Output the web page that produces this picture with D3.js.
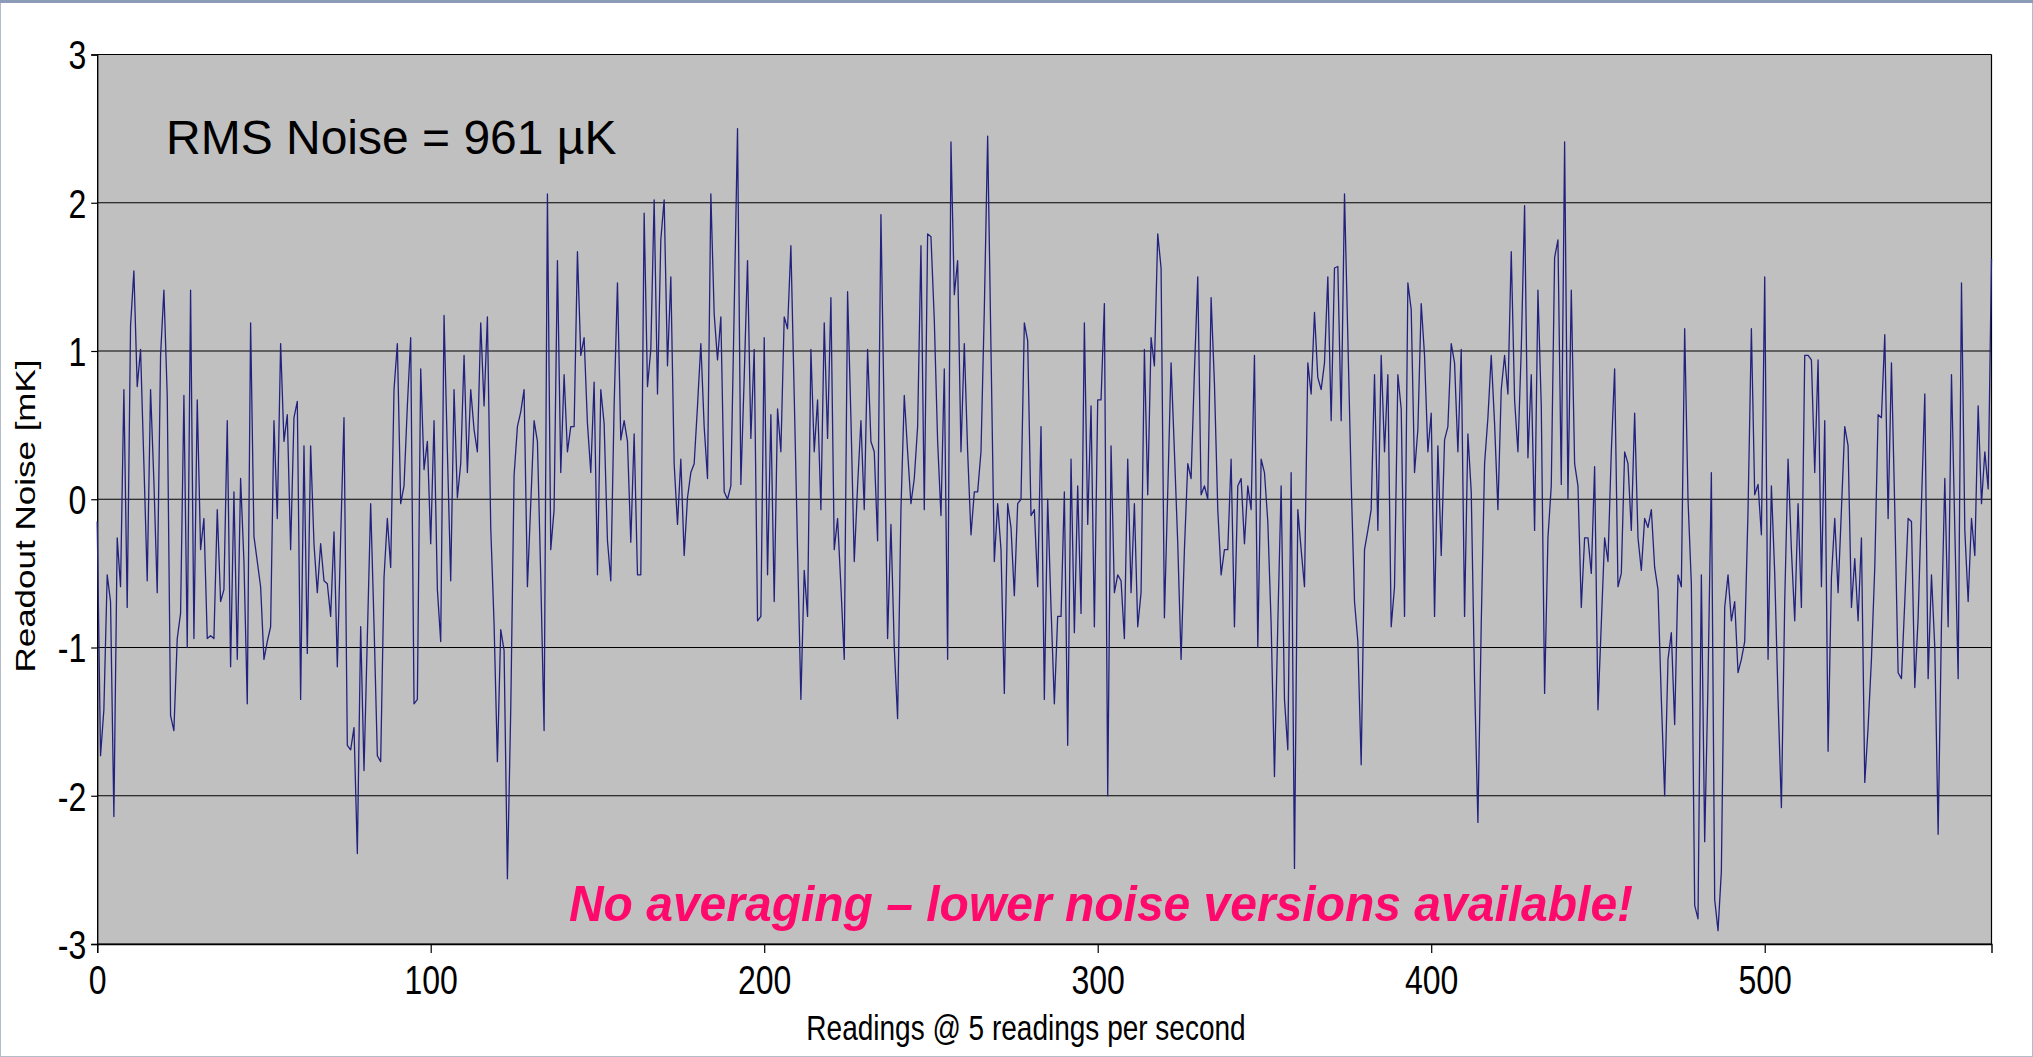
<!DOCTYPE html>
<html>
<head>
<meta charset="utf-8">
<script src="https://cdn.jsdelivr.net/npm/d3@7"></script>
<style>
  body { margin: 0; background: #fff; }
  svg { display: block; }
</style>
</head>
<body>
<div id="chart"></div>
<script>
// readings, one per sample (index = reading number)
const readings = [
  -0.15, -1.73, -1.42, -0.51, -0.69, -2.14, -0.26, -0.59, 0.74, -0.73,
  1.17, 1.54, 0.76, 1.01, 0.24, -0.55, 0.74, 0.12, -0.63, 0.97,
  1.41, 0.70, -1.46, -1.56, -0.94, -0.77, 0.70, -1.00, 1.41, -0.94,
  0.67, -0.34, -0.13, -0.94, -0.92, -0.94, -0.07, -0.69, -0.61, 0.53,
  -1.13, 0.05, -1.08, 0.14, -0.42, -1.38, 1.19, -0.25, -0.42, -0.59,
  -1.08, -0.96, -0.86, 0.53, -0.13, 1.05, 0.39, 0.57, -0.34, 0.55,
  0.66, -1.35, 0.36, -1.04, 0.36, -0.30, -0.63, -0.30, -0.55, -0.57,
  -0.79, -0.22, -1.13, -0.26, 0.55, -1.66, -1.69, -1.54, -2.39, -0.86,
  -1.83, -0.93, -0.03, -0.84, -1.73, -1.77, -0.53, -0.13, -0.46, 0.74,
  1.05, -0.03, 0.09, 0.63, 1.09, -1.38, -1.35, 0.88, 0.20, 0.39,
  -0.30, 0.53, -0.61, -0.96, 1.24, 0.32, -0.55, 0.74, 0.01, 0.24,
  0.97, 0.18, 0.74, 0.47, 0.32, 1.19, 0.63, 1.23, -0.19, -0.84,
  -1.77, -0.88, -1.02, -2.56, -1.42, 0.16, 0.49, 0.59, 0.74, -0.59,
  -0.03, 0.53, 0.39, -0.53, -1.56, 2.06, -0.34, -0.07, 1.61, 0.18,
  0.84, 0.32, 0.49, 0.49, 1.67, 0.97, 1.09, 0.51, 0.18, 0.79,
  -0.51, 0.74, 0.51, -0.28, -0.55, 0.63, 1.46, 0.40, 0.53, 0.39,
  -0.29, 0.44, -0.51, -0.51, 1.93, 0.76, 1.01, 2.02, 0.71, 1.75,
  2.02, 0.90, 1.50, 0.24, -0.17, 0.27, -0.38, 0.01, 0.18, 0.24,
  0.63, 1.05, 0.49, 0.14, 2.06, 1.25, 0.94, 1.23, 0.05, 0.00,
  0.09, 1.28, 2.50, 0.10, 0.82, 1.61, 0.41, 1.01, -0.82, -0.79,
  1.09, -0.51, 0.57, -0.69, 0.61, 0.32, 1.23, 1.15, 1.71, 0.70,
  -0.34, -1.35, -0.48, -0.79, 1.01, 0.32, 0.67, -0.07, 1.19, 0.41,
  1.36, -0.34, -0.13, -0.59, -1.08, 1.40, 0.55, -0.42, 0.09, 0.53,
  -0.07, 1.01, 0.39, 0.32, -0.28, 1.92, 0.51, -0.94, -0.17, -1.00,
  -1.48, -0.07, 0.70, 0.32, -0.03, 0.14, 0.49, 1.71, -0.07, 1.79,
  1.77, 1.21, 0.39, -0.11, 0.88, -1.08, 2.41, 1.38, 1.61, 0.32,
  1.05, 0.32, -0.24, 0.05, 0.05, 0.32, 1.28, 2.45, 1.01, -0.42,
  -0.03, -0.34, -1.31, -0.03, -0.19, -0.65, -0.03, 0.00, 1.19, 1.07,
  -0.11, -0.07, -0.59, 0.49, -1.35, 0.00, -0.73, -1.38, -0.79, -0.79,
  0.05, -1.66, 0.27, -0.90, 0.09, -0.77, 1.19, -0.17, 0.63, -0.86,
  0.67, 0.67, 1.32, -2.00, 0.36, -0.63, -0.51, -0.55, -0.94, 0.27,
  -0.63, -0.03, -0.86, -0.63, 1.01, 0.03, 1.09, 0.90, 1.79, 1.56,
  -0.80, 0.05, 0.92, 0.32, -0.30, -1.08, -0.34, 0.24, 0.14, 0.86,
  1.50, 0.03, 0.09, 0.00, 1.36, 0.78, -0.07, -0.51, -0.34, -0.34,
  0.27, -0.86, 0.09, 0.14, -0.30, 0.09, -0.07, 0.97, -1.00, 0.27,
  0.18, -0.15, -0.84, -1.87, -0.84, 0.09, -1.35, -1.69, 0.18, -2.49,
  -0.07, -0.34, -0.59, 0.92, 0.71, 1.26, 0.82, 0.74, 0.92, 1.50,
  0.53, 1.56, 1.57, 0.53, 2.06, 1.09, 0.12, -0.69, -0.96, -1.79,
  -0.34, -0.21, -0.07, 0.84, -0.21, 0.97, 0.32, 0.84, -0.86, -0.59,
  0.84, 0.61, -0.79, 1.46, 1.28, 0.18, 0.47, 1.32, 0.97, 0.32,
  0.58, -0.79, 0.36, -0.38, 0.40, 0.49, 1.05, 0.92, 0.32, 1.01,
  -0.79, 0.44, 0.05, -1.23, -2.18, -0.84, 0.24, 0.55, 0.97, 0.51,
  -0.07, 0.74, 0.97, 0.71, 1.67, 0.67, 0.32, 1.01, 1.98, 0.28,
  0.84, -0.21, 1.41, 0.63, -1.31, -0.26, 0.09, 1.63, 1.75, 0.10,
  2.41, 0.00, 1.41, 0.24, 0.09, -0.73, -0.26, -0.26, -0.50, 0.22,
  -1.42, -0.84, -0.26, -0.42, 0.32, 0.88, -0.59, -0.50, 0.32, 0.24,
  -0.21, 0.58, -0.26, -0.48, -0.13, -0.19, -0.07, -0.46, -0.61, -1.35,
  -2.00, -1.08, -0.90, -1.52, -0.51, -0.59, 1.15, 0.00, -0.57, -2.74,
  -2.83, -0.51, -2.31, -1.23, 0.18, -2.70, -2.91, -2.51, -0.73, -0.51,
  -0.82, -0.69, -1.17, -1.08, -0.96, -0.07, 1.15, 0.03, 0.10, -0.24,
  1.50, -1.08, 0.09, -0.50, -1.35, -2.08, -0.69, 0.27, -0.34, -0.82,
  -0.03, -0.73, 0.97, 0.97, 0.94, 0.18, 0.94, -0.59, 0.53, -1.70,
  -0.53, -0.13, -0.63, -0.07, 0.49, 0.36, -0.73, -0.40, -0.82, -0.26,
  -1.91, -1.54, -1.08, -0.46, 0.57, 0.55, 1.11, -0.13, 0.92, -0.07,
  -1.17, -1.21, -0.69, -0.13, -0.15, -1.27, -0.80, -0.03, 0.71, -1.21,
  -0.51, -1.00, -2.26, -0.84, 0.14, -0.86, 0.84, -0.20, -1.21, 1.46,
  -0.21, -0.69, -0.13, -0.38, 0.63, -0.03, 0.32, 0.07, 1.62
];

const xTicks = [0, 100, 200, 300, 400, 500];
const yTicks = [-3, -2, -1, 0, 1, 2, 3];

const xTitle = 'Readings @ 5 readings per second';
const yTitle = 'Readout Noise [mK]';
const noteRms = 'RMS Noise = 961 \u00b5K';
const noteAvg = 'No averaging \u2013 lower noise versions available!';

const width = 2033;
const height = 1057;
const font = '"Liberation Sans", Arial, sans-serif';
// axis text in the source is a bit taller than wide, so stretch those glyphs
const stretch = 1.25;

const svg = d3.select('#chart')
  .append('svg')
  .attr('width', width)
  .attr('height', height);

// outer frame
svg.append('rect')
  .attr('x', 0.5).attr('y', 0.5)
  .attr('width', width - 1).attr('height', height - 1)
  .attr('fill', '#fff')
  .attr('stroke', '#b4bccb');
svg.append('line')
  .attr('x1', 0).attr('x2', width)
  .attr('y1', 1.5).attr('y2', 1.5)
  .attr('stroke', '#8c9cb8')
  .attr('stroke-width', 3);

const x = d3.scaleLinear().domain([0, readings.length - 1]).range([97.2, 1991.5]);
const y = d3.scaleLinear().domain([-3, 3]).range([944, 54.5]);

// plot area
svg.append('rect')
  .attr('x', x(0)).attr('y', y(3))
  .attr('width', x(readings.length - 1) - x(0))
  .attr('height', y(-3) - y(3))
  .attr('fill', '#c0c0c0');

// gridlines
svg.append('g')
  .selectAll('line')
  .data(yTicks)
  .enter()
  .append('line')
  .attr('x1', x(0)).attr('x2', x(readings.length - 1))
  .attr('y1', d => y(d)).attr('y2', d => y(d))
  .attr('stroke', '#000')
  .attr('stroke-width', 1.2);

// right border
svg.append('line')
  .attr('x1', x(readings.length - 1)).attr('x2', x(readings.length - 1))
  .attr('y1', y(3)).attr('y2', y(-3))
  .attr('stroke', '#000')
  .attr('stroke-width', 1.2);

// axes
const xAxis = svg.append('g')
  .attr('transform', `translate(0,${y(-3)})`)
  .call(d3.axisBottom(x).tickValues(xTicks).tickSize(9).tickFormat(d => String(d)));

const yAxis = svg.append('g')
  .attr('transform', `translate(${x(0)},0)`)
  .call(d3.axisLeft(y).tickValues(yTicks).tickSize(6).tickFormat(d => String(d)));

[xAxis, yAxis].forEach(a => {
  a.select('.domain').attr('stroke', '#000').attr('stroke-width', 1.4);
  a.selectAll('.tick line').attr('stroke', '#000').attr('stroke-width', 1.2);
  a.selectAll('text')
    .attr('font-family', font)
    .attr('font-size', 32)
    .attr('fill', '#000');
});

xAxis.selectAll('text')
  .attr('y', null)
  .attr('dy', null)
  .attr('transform', `translate(0,50) scale(1,${stretch})`);

yAxis.selectAll('text')
  .attr('x', null)
  .attr('dy', '0.36em')
  .attr('transform', `translate(-11,0) scale(1,${stretch})`);

// readings trace
const line = d3.line()
  .x((d, i) => x(i))
  .y(d => y(d));

svg.append('path')
  .datum(readings)
  .attr('d', line)
  .attr('fill', 'none')
  .attr('stroke', '#22227e')
  .attr('stroke-width', 1.3)
  .attr('stroke-linejoin', 'round');

// titles
svg.append('text')
  .attr('transform', `translate(1026,1040) scale(1,${stretch})`)
  .attr('text-anchor', 'middle')
  .attr('font-family', font)
  .attr('font-size', 28)
  .attr('fill', '#000')
  .text(xTitle);

svg.append('text')
  .attr('transform', `translate(35,516) scale(1,${stretch}) rotate(-90)`)
  .attr('text-anchor', 'middle')
  .attr('font-family', font)
  .attr('font-size', 28)
  .attr('fill', '#000')
  .text(yTitle);

// annotations
svg.append('text')
  .attr('x', 166).attr('y', 154)
  .attr('font-family', font)
  .attr('font-size', 48)
  .attr('fill', '#000')
  .text(noteRms);

svg.append('text')
  .attr('transform', 'translate(1101,921) scale(1,1.05)')
  .attr('text-anchor', 'middle')
  .attr('font-family', font)
  .attr('font-size', 48)
  .attr('font-weight', 'bold')
  .attr('font-style', 'italic')
  .attr('fill', '#ff0a6c')
  .text(noteAvg);
</script>
</body>
</html>
